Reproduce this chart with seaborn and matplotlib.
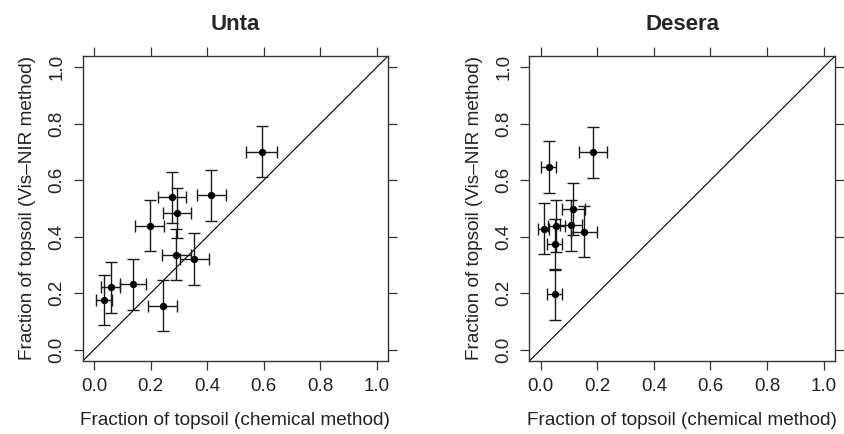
import matplotlib
matplotlib.use("Agg")
import matplotlib.pyplot as plt
import seaborn as sns
import pandas as pd
import numpy as np

# Unta data
unta_x = [0.035, 0.059, 0.139, 0.243, 0.197, 0.276, 0.294, 0.291, 0.354, 0.415, 0.593]
unta_y = [0.176, 0.221, 0.231, 0.156, 0.439, 0.539, 0.484, 0.336, 0.321, 0.547, 0.701]
unta_xerr = [0.028, 0.034, 0.046, 0.051, 0.051, 0.050, 0.050, 0.052, 0.051, 0.052, 0.054]
unta_yerr = [0.090, 0.091, 0.091, 0.091, 0.091, 0.090, 0.090, 0.090, 0.092, 0.091, 0.091]

# Desera data
desera_x = [0.028, 0.185, 0.011, 0.056, 0.049, 0.049, 0.107, 0.115, 0.153]
desera_y = [0.647, 0.699, 0.429, 0.438, 0.373, 0.196, 0.440, 0.498, 0.418]
desera_xerr = [0.025, 0.048, 0.019, 0.030, 0.027, 0.027, 0.040, 0.040, 0.045]
desera_yerr = [0.091, 0.091, 0.091, 0.091, 0.090, 0.090, 0.091, 0.091, 0.091]

titles = ["Unta", "Desera"]
ticks = [0.0, 0.2, 0.4, 0.6, 0.8, 1.0]
tick_labels = ["0.0", "0.2", "0.4", "0.6", "0.8", "1.0"]
xlabel = "Fraction of topsoil (chemical method)"
ylabel = "Fraction of topsoil (Vis\u2013NIR method)"

sns.set_theme(style="white")
plt.rcParams['font.family'] = ['Liberation Sans', 'DejaVu Sans']

fig = plt.figure(figsize=(8.45, 4.34), dpi=100)
ax1 = fig.add_axes([0.0979, 0.1682, 0.3613, 0.7028])
ax2 = fig.add_axes([0.6264, 0.1682, 0.3618, 0.7028])

datasets = [
    (unta_x, unta_y, unta_xerr, unta_yerr),
    (desera_x, desera_y, desera_xerr, desera_yerr),
]

for ax, title, (x, y, xe, ye) in zip([ax1, ax2], titles, datasets):
    df = pd.DataFrame({"x": x, "y": y, "xerr": xe, "yerr": ye})
    lo, hi = -0.04, 1.04
    ax.plot([lo, hi], [lo, hi], color="black", lw=0.8, zorder=1)
    ax.errorbar(df["x"], df["y"], xerr=df["xerr"], yerr=df["yerr"], fmt="none",
                ecolor="#1a1a1a", elinewidth=1.0, capsize=4.0, capthick=1.0, zorder=2)
    sns.scatterplot(data=df, x="x", y="y", ax=ax, color="black", s=28,
                    edgecolor="black", linewidth=0, zorder=3)
    ax.set_xlim(lo, hi)
    ax.set_ylim(lo, hi)
    ax.set_xticks(ticks)
    ax.set_yticks(ticks)
    ax.set_xticklabels(tick_labels, fontsize=13.5, color="#222222")
    ax.set_yticklabels(tick_labels, fontsize=13.5, color="#222222", rotation=90, va="center")
    ax.tick_params(axis="both", which="both", direction="out", length=6.3, width=0.9,
                   color="#333333", top=True, right=True, bottom=True, left=True,
                   labeltop=False, labelright=False, pad=6)
    ax.set_xlabel(xlabel, fontsize=13.7, color="#222222", labelpad=12)
    ax.set_ylabel(ylabel, fontsize=13.7, color="#222222", labelpad=9)
    ax.set_title(title, fontsize=16, fontweight="bold", pad=19)
    for sp in ax.spines.values():
        sp.set_visible(True)
        sp.set_color("#333333")
        sp.set_linewidth(1.0)
    ax.grid(False)

fig.savefig("out.png", dpi=100)
